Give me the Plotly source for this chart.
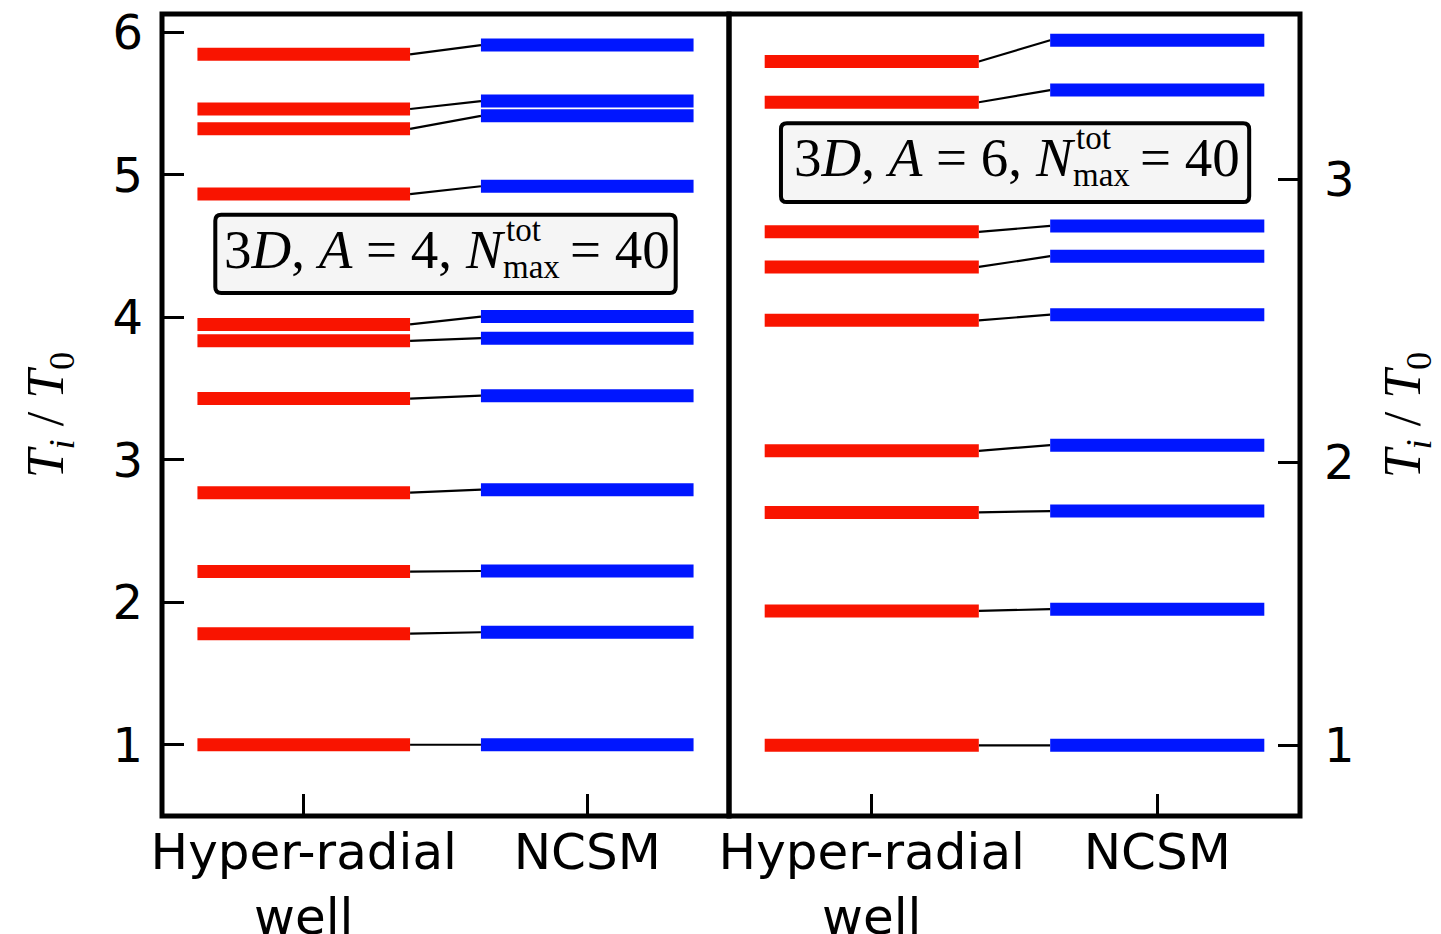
import plotly.graph_objects as go

# ---------------- data ----------------
methods = ["Hyper-radial<br>well", "NCSM"]
method_x = [0, 1]

a4_hyper = [5.847, 5.463, 5.324, 4.866, 3.951, 3.836, 3.430, 2.770, 2.216, 1.780, 1.0]
a4_ncsm = [5.912, 5.519, 5.415, 4.921, 4.006, 3.854, 3.451, 2.791, 2.220, 1.790, 1.0]
a6_hyper = [3.417, 3.273, 2.815, 2.691, 2.502, 2.041, 1.823, 1.475, 1.0]
a6_ncsm = [3.492, 3.316, 2.836, 2.729, 2.522, 2.061, 1.828, 1.481, 1.0]

left_yticks = [1, 2, 3, 4, 5, 6]
right_yticks = [1, 2, 3]
labels = ["3<i>D</i>, <i>A</i> = 4, <i>N</i>", "3<i>D</i>, <i>A</i> = 6, <i>N</i>"]

# ---------------- style ----------------
RED = "#f91400"
BLUE = "#0016ff"
HALF = 0.375
BAR_W = 13
FONT_TICK = dict(family="DejaVu Sans", size=48, color="black")
FONT_XTICK = dict(family="DejaVu Sans", size=50, color="black")
SERIF = "Liberation Serif"


def level_xy(center, values):
    xs, ys = [], []
    for v in values:
        xs += [center - HALF, center + HALF, None]
        ys += [v, v, None]
    return xs, ys


def connector_xy(left_vals, right_vals):
    xs, ys = [], []
    for a, b in zip(left_vals, right_vals):
        xs += [method_x[0] + HALF, method_x[1] - HALF, None]
        ys += [a, b, None]
    return xs, ys


fig = go.Figure()

panels = [("x", "y", a4_hyper, a4_ncsm), ("x2", "y2", a6_hyper, a6_ncsm)]
for xr, yr, hyp, ncsm in panels:
    cx, cy = connector_xy(hyp, ncsm)
    fig.add_trace(go.Scatter(x=cx, y=cy, mode="lines", xaxis=xr, yaxis=yr,
                             line=dict(color="black", width=2.2), showlegend=False,
                             hoverinfo="skip"))
    hx, hy = level_xy(method_x[0], hyp)
    fig.add_trace(go.Scatter(x=hx, y=hy, mode="lines", xaxis=xr, yaxis=yr,
                             line=dict(color=RED, width=BAR_W), showlegend=False))
    nx, ny = level_xy(method_x[1], ncsm)
    fig.add_trace(go.Scatter(x=nx, y=ny, mode="lines", xaxis=xr, yaxis=yr,
                             line=dict(color=BLUE, width=BAR_W), showlegend=False))

split = 567 / 1138
common_x = dict(range=[-0.5, 1.5], tickvals=method_x, ticktext=methods,
                ticks="inside", ticklen=22, tickwidth=3, tickcolor="black",
                tickfont=FONT_XTICK, showgrid=False, zeroline=False, showline=False,
                ticklabelstandoff=2, automargin=False, ticklabeloverflow="allow")
common_y = dict(ticks="inside", ticklen=22, tickwidth=3, tickcolor="black",
                tickfont=FONT_TICK, showgrid=False, zeroline=False, showline=False,
                automargin=False, ticklabeloverflow="allow")


def ytitle(standoff):
    return dict(text="<i>T<sub>i</sub></i> / <i>T</i><sub>0</sub>",
                font=dict(family=SERIF, size=52, color="black"), standoff=standoff)


fig.update_layout(
    width=1433, height=926,
    margin=dict(l=154, r=141, t=6, b=118),
    paper_bgcolor="white", plot_bgcolor="white",
    xaxis=dict(domain=[0, split], anchor="y", **common_x),
    xaxis2=dict(domain=[split, 1], anchor="y2", **common_x),
    yaxis=dict(anchor="x", range=[0.5, 6.13], tickvals=left_yticks, title=ytitle(32),
               ticklabelstandoff=18, **common_y),
    yaxis2=dict(anchor="x2", side="right", range=[0.75, 3.585], tickvals=right_yticks,
                title=ytitle(30), ticklabelstandoff=23, **common_y),
)

# panel frames
for xr, yr in [("x", "y"), ("x2", "y2")]:
    fig.add_shape(type="rect", xref=f"{xr} domain", yref=f"{yr} domain",
                  x0=0, x1=1, y0=0, y1=1, line=dict(color="black", width=5),
                  layer="above")


def rounded_path(x0, x1, y0, y1, rx, ry):
    return (f"M {x0+rx},{y0} L {x1-rx},{y0} Q {x1},{y0} {x1},{y0+ry} "
            f"L {x1},{y1-ry} Q {x1},{y1} {x1-rx},{y1} L {x0+rx},{y1} "
            f"Q {x0},{y1} {x0},{y1-ry} L {x0},{y0+ry} Q {x0},{y0} {x0+rx},{y0} Z")


# info boxes: (xref, yref, box x0,x1,y0,y1, rx, ry, anchor xN, anchor yC, label)
boxes = [
    ("x", "y", -0.312, 1.312, 4.171, 4.72, 0.021, 0.042, 0.722, 4.474, labels[0]),
    ("x2", "y2", -0.318, 1.322, 2.920, 3.199, 0.021, 0.021, 0.724, 3.077, labels[1]),
]
for xr, yr, x0, x1, y0, y1, rx, ry, xn, yc, lab in boxes:
    fig.add_shape(type="path", xref=xr, yref=yr,
                  path=rounded_path(x0, x1, y0, y1, rx, ry),
                  fillcolor="#f5f5f5", line=dict(color="black", width=4), layer="above")
    big = dict(family=SERIF, size=55, color="black")
    small = dict(family=SERIF, size=33, color="black")
    fig.add_annotation(xref=xr, yref=yr, x=xn, y=yc, text=lab, showarrow=False,
                       xanchor="right", yanchor="middle", font=big)
    fig.add_annotation(xref=xr, yref=yr, x=xn, y=yc, text="tot", showarrow=False,
                       xanchor="left", yanchor="middle", xshift=-4, yshift=20, font=small)
    fig.add_annotation(xref=xr, yref=yr, x=xn, y=yc, text="max", showarrow=False,
                       xanchor="left", yanchor="middle", xshift=-7, yshift=-17, font=small)
    fig.add_annotation(xref=xr, yref=yr, x=xn, y=yc, text="= 40", showarrow=False,
                       xanchor="left", yanchor="middle", xshift=60, font=big)

fig.write_html("out.html")
